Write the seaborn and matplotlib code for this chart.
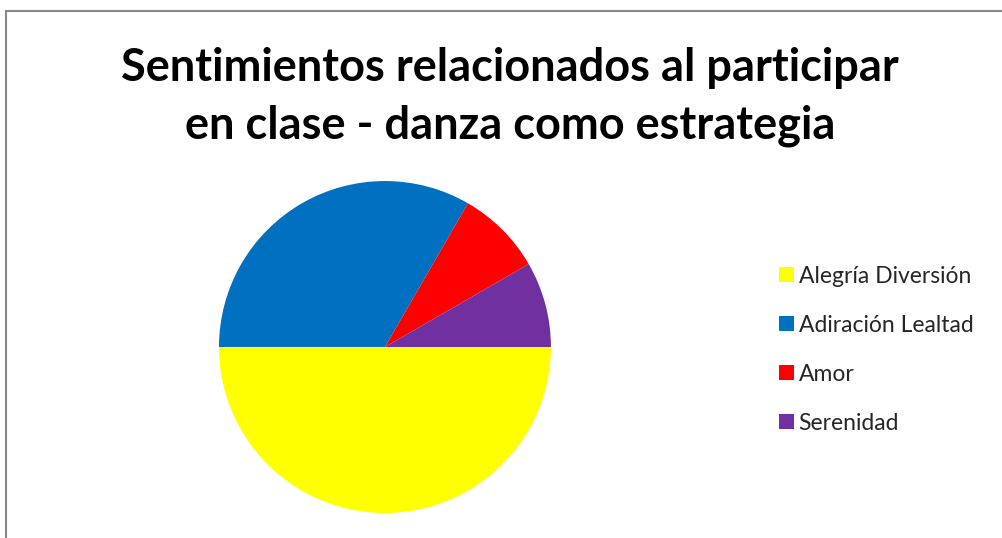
import matplotlib
matplotlib.use("Agg")
import matplotlib.pyplot as plt
import seaborn as sns
from matplotlib.patches import Rectangle

categories = ["Alegría Diversión", "Adiración Lealtad", "Amor", "Serenidad"]
values = [6, 4, 1, 1]
colors = ["#FFFF00", "#0070C0", "#FF0000", "#7030A0"]
title = "Sentimientos relacionados al participar\nen clase - danza como estrategia"

sns.set_theme(style="white")
plt.rcParams['font.family'] = ['Lato', 'DejaVu Sans']

fig = plt.figure(figsize=(10.03, 5.38), dpi=100)
fig.patch.set_facecolor("white")

# border (top/left visible)
fig.patches.append(Rectangle((6/1003, -0.1), 1.2, (538-11)/538 + 0.1,
                             transform=fig.transFigure, fill=False,
                             edgecolor="#888888", linewidth=1.5))

ax = fig.add_axes([0.2183, 0.0465, 0.331, 0.617])
palette = sns.color_palette(colors)
wedges, _ = ax.pie(values, colors=palette, startangle=0, counterclock=False,
                   radius=1.0, wedgeprops=dict(linewidth=0))
ax.set_xlim(-1, 1)
ax.set_ylim(-1, 1)
ax.set_aspect("equal")
ax.axis("off")

fig.text(510/1003, 1 - 97/538, title, ha="center", va="center",
         fontsize=32.5, fontweight="bold", linespacing=1.45, color="black")

leg = fig.legend(wedges, categories, loc="upper left",
                 bbox_to_anchor=(758/1003, 1 - 245/538), frameon=False,
                 fontsize=16.5, handlelength=0.65, handleheight=0.65,
                 handletextpad=0.22, labelspacing=1.22)

fig.savefig("out.png", dpi=100, facecolor="white")
